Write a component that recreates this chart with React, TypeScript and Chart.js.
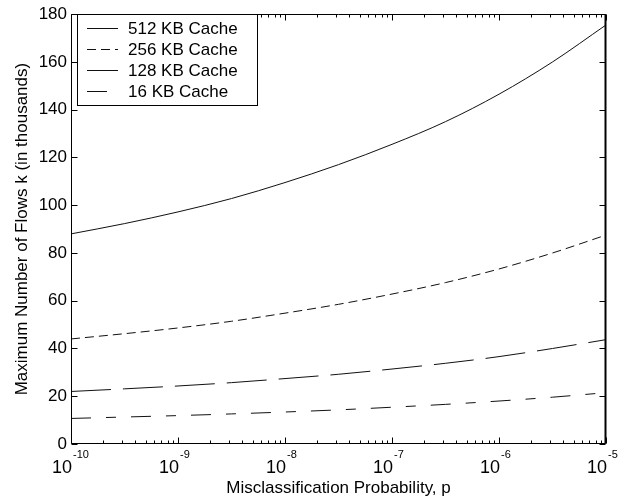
import React, { useEffect, useRef } from 'react';
import { Chart, registerables } from 'chart.js';

Chart.register(...registerables);

const FONT = "'Liberation Sans', Arial, Helvetica, sans-serif";

// log10 of misclassification probability p
const logP = [-10, -9.5, -9, -8.5, -8, -7.5, -7, -6.5, -6, -5.5, -5];
// maximum number of flows k (thousands)
const cache512 = [88, 92.3, 97.2, 102.8, 109.5, 117, 125.5, 135, 146.5, 160, 175.5];
const cache256 = [44, 46.2, 48.6, 51.4, 54.8, 58.5, 62.8, 67.6, 73.3, 80, 87.5];
const cache128 = [22, 23.1, 24.3, 25.7, 27.4, 29.2, 31.4, 33.8, 36.6, 40, 43.7];
const cache16 = [10.7, 11.3, 11.9, 12.6, 13.4, 14.3, 15.4, 16.6, 18, 19.6, 21.5];

const seriesLabels = ['512 KB Cache', '256 KB Cache', '128 KB Cache', '16 KB Cache'];
const seriesValues = [cache512, cache256, cache128, cache16];
const seriesDash: number[][] = [[], [9, 5], [40, 12], [20, 15, 10, 15]];

const xDecades = [-10, -9, -8, -7, -6, -5];
const yTicks = [0, 20, 40, 60, 80, 100, 120, 140, 160, 180];
const xTitle = 'Misclassification Probability, p';
const yTitle = 'Maximum Number of Flows k (in thousands)';

const framePlugin = {
  id: 'framePlugin',
  afterDraw(chart: any) {
    const { ctx, chartArea, scales } = chart;
    const { left, right, top, bottom } = chartArea;
    const x = scales.x;
    const y = scales.y;
    ctx.save();
    ctx.strokeStyle = '#000';
    ctx.lineWidth = 1;
    const L = Math.round(left) + 0.5;
    const R = Math.round(right) - 0.5;
    const T = Math.round(top) + 0.5;
    const B = Math.round(bottom) - 0.5;
    ctx.beginPath();
    ctx.rect(L, T, R - L, B - T);
    ctx.stroke();
    // right edge a bit heavier
    ctx.beginPath();
    ctx.lineWidth = 2;
    ctx.moveTo(R, T);
    ctx.lineTo(R, B);
    ctx.stroke();
    ctx.lineWidth = 1;

    // x ticks (inward), bottom and top
    ctx.beginPath();
    for (let i = 0; i < xDecades.length; i++) {
      const d = xDecades[i];
      const px = Math.round(x.getPixelForValue(Math.pow(10, d))) + 0.5;
      ctx.moveTo(px, B);
      ctx.lineTo(px, B - 6);
      ctx.moveTo(px, T);
      ctx.lineTo(px, T + 6);
      if (i < xDecades.length - 1) {
        for (let m = 2; m <= 9; m++) {
          const pm = Math.round(x.getPixelForValue(m * Math.pow(10, d))) + 0.5;
          ctx.moveTo(pm, B);
          ctx.lineTo(pm, B - 3);
          ctx.moveTo(pm, T);
          ctx.lineTo(pm, T + 3);
        }
      }
    }
    // y ticks (inward), left and right
    for (const v of yTicks) {
      const py = Math.round(y.getPixelForValue(v)) + 0.5;
      ctx.moveTo(L, py);
      ctx.lineTo(L + 6, py);
      ctx.moveTo(R, py);
      ctx.lineTo(R - 6, py);
    }
    ctx.stroke();

    // x tick labels 10^n
    ctx.fillStyle = '#000';
    ctx.textBaseline = 'alphabetic';
    for (const d of xDecades) {
      const px = x.getPixelForValue(Math.pow(10, d));
      ctx.font = `18px ${FONT}`;
      ctx.textAlign = 'right';
      ctx.fillText('10', px + 1, 473);
      ctx.font = `11px ${FONT}`;
      ctx.textAlign = 'left';
      ctx.fillText('-' + Math.abs(d), px + 2, 458);
    }
    // x title
    ctx.font = `17px ${FONT}`;
    ctx.textAlign = 'center';
    ctx.fillText(xTitle, (left + right) / 2, 493);

    // legend
    const lx = 77.5, ly = 14.5, lw = 180, lh = 91;
    ctx.fillStyle = '#fff';
    ctx.fillRect(lx, ly, lw, lh);
    ctx.strokeStyle = '#000';
    ctx.lineWidth = 1;
    ctx.strokeRect(lx, ly, lw, lh);
    ctx.font = `17px ${FONT}`;
    ctx.textAlign = 'left';
    ctx.textBaseline = 'middle';
    for (let i = 0; i < seriesLabels.length; i++) {
      const cy = 28 + i * 21;
      ctx.strokeStyle = '#111';
      ctx.setLineDash(seriesDash[i]);
      ctx.beginPath();
      ctx.moveTo(87, cy + 0.5);
      ctx.lineTo(118, cy + 0.5);
      ctx.stroke();
      ctx.setLineDash([]);
      ctx.fillStyle = '#000';
      ctx.fillText(seriesLabels[i], 128, cy + 1);
    }
    ctx.restore();
  },
};

export default function App() {
  const ref = useRef<HTMLCanvasElement | null>(null);
  useEffect(() => {
    document.body.style.margin = '0';
    const canvas = ref.current;
    if (!canvas) return;
    const datasets = seriesValues.map((vals, i) => ({
      label: seriesLabels[i],
      data: vals.map((v, j) => ({ x: Math.pow(10, logP[j]), y: v })),
      borderColor: '#111',
      borderWidth: 1,
      borderDash: seriesDash[i],
      pointRadius: 0,
      fill: false,
      cubicInterpolationMode: 'monotone' as const,
    }));
    const chart = new Chart(canvas, {
      type: 'line',
      data: { datasets },
      plugins: [framePlugin],
      options: {
        animation: false,
        responsive: true,
        maintainAspectRatio: false,
        layout: { padding: { left: 0, right: 30, top: 7, bottom: 0 } },
        plugins: { legend: { display: false }, tooltip: { enabled: false } },
        scales: {
          x: {
            type: 'logarithmic',
            min: 1e-10,
            max: 1e-5,
            ticks: { display: false },
            grid: { display: false, drawTicks: false },
            border: { display: false },
            afterFit(s: any) { s.height = 57; },
          },
          y: {
            type: 'linear',
            min: 0,
            max: 180,
            ticks: { stepSize: 20, color: '#000', padding: 4, font: { family: FONT, size: 17 } },
            grid: { display: false, drawTicks: false },
            border: { display: false },
            title: {
              display: true,
              text: yTitle,
              color: '#000',
              font: { family: FONT, size: 17 },
              padding: { top: 12, bottom: 0 },
            },
            afterFit(s: any) { s.width = 71; },
          },
        },
      },
    });
    return () => chart.destroy();
  }, []);
  return (
    <div style={{ width: 636, height: 501, position: 'relative', background: '#fff' }}>
      <canvas ref={ref} />
    </div>
  );
}
